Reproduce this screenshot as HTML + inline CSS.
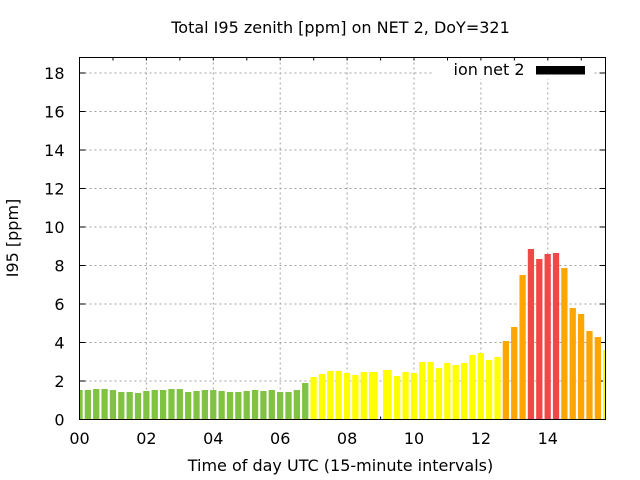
<!DOCTYPE html>
<html><head><meta charset="utf-8"><style>
html,body{margin:0;padding:0;background:#fff;}
svg{display:block;}
text{font-family:"DejaVu Sans","Liberation Sans",sans-serif;font-size:16px;fill:#000;}
</style></head><body>
<svg width="640" height="480" viewBox="0 0 640 480" xmlns="http://www.w3.org/2000/svg">
<rect x="0" y="0" width="640" height="480" fill="#fff"/>
<defs><clipPath id="pc"><rect x="79.5" y="57.5" width="526" height="362"/></clipPath></defs>
<!-- grid -->
<g stroke="#a0a0a0" stroke-width="1" stroke-dasharray="2,3" fill="none">
<line x1="79.5" y1="381" x2="605.5" y2="381"/>
<line x1="79.5" y1="342.5" x2="605.5" y2="342.5"/>
<line x1="79.5" y1="304" x2="605.5" y2="304"/>
<line x1="79.5" y1="265.5" x2="605.5" y2="265.5"/>
<line x1="79.5" y1="227" x2="605.5" y2="227"/>
<line x1="79.5" y1="188.5" x2="605.5" y2="188.5"/>
<line x1="79.5" y1="150" x2="605.5" y2="150"/>
<line x1="79.5" y1="111.5" x2="605.5" y2="111.5"/>
<line x1="79.5" y1="73" x2="605.5" y2="73"/>
<line x1="146.4" y1="57.5" x2="146.4" y2="419.5"/>
<line x1="213.3" y1="57.5" x2="213.3" y2="419.5"/>
<line x1="280.2" y1="57.5" x2="280.2" y2="419.5"/>
<line x1="347.1" y1="57.5" x2="347.1" y2="419.5"/>
<line x1="414" y1="57.5" x2="414" y2="419.5"/>
<line x1="480.9" y1="57.5" x2="480.9" y2="419.5"/>
<line x1="547.8" y1="57.5" x2="547.8" y2="419.5"/>
</g>
<!-- legend background -->
<rect x="434" y="58" width="159" height="21" fill="#fff"/>
<!-- ticks -->
<g stroke="#000" stroke-width="1">
<line x1="79.5" y1="381" x2="85.5" y2="381"/><line x1="605.5" y1="381" x2="599.5" y2="381"/>
<line x1="79.5" y1="342.5" x2="85.5" y2="342.5"/><line x1="605.5" y1="342.5" x2="599.5" y2="342.5"/>
<line x1="79.5" y1="304" x2="85.5" y2="304"/><line x1="605.5" y1="304" x2="599.5" y2="304"/>
<line x1="79.5" y1="265.5" x2="85.5" y2="265.5"/><line x1="605.5" y1="265.5" x2="599.5" y2="265.5"/>
<line x1="79.5" y1="227" x2="85.5" y2="227"/><line x1="605.5" y1="227" x2="599.5" y2="227"/>
<line x1="79.5" y1="188.5" x2="85.5" y2="188.5"/><line x1="605.5" y1="188.5" x2="599.5" y2="188.5"/>
<line x1="79.5" y1="150" x2="85.5" y2="150"/><line x1="605.5" y1="150" x2="599.5" y2="150"/>
<line x1="79.5" y1="111.5" x2="85.5" y2="111.5"/><line x1="605.5" y1="111.5" x2="599.5" y2="111.5"/>
<line x1="79.5" y1="73" x2="85.5" y2="73"/><line x1="605.5" y1="73" x2="599.5" y2="73"/>
<line x1="113" y1="57.5" x2="113" y2="60.5"/><line x1="146.4" y1="57.5" x2="146.4" y2="60.5"/>
<line x1="179.9" y1="57.5" x2="179.9" y2="60.5"/><line x1="213.3" y1="57.5" x2="213.3" y2="60.5"/>
<line x1="246.8" y1="57.5" x2="246.8" y2="60.5"/><line x1="280.2" y1="57.5" x2="280.2" y2="60.5"/>
<line x1="313.7" y1="57.5" x2="313.7" y2="60.5"/><line x1="347.1" y1="57.5" x2="347.1" y2="60.5"/>
<line x1="380.6" y1="57.5" x2="380.6" y2="60.5"/><line x1="414" y1="57.5" x2="414" y2="60.5"/>
<line x1="447.5" y1="57.5" x2="447.5" y2="60.5"/><line x1="480.9" y1="57.5" x2="480.9" y2="60.5"/>
<line x1="514.4" y1="57.5" x2="514.4" y2="60.5"/><line x1="547.8" y1="57.5" x2="547.8" y2="60.5"/>
<line x1="581.3" y1="57.5" x2="581.3" y2="60.5"/>
<line x1="380.6" y1="419.5" x2="380.6" y2="416.5"/>
</g>
<!-- bars -->
<g clip-path="url(#pc)">
<g fill="#80c242">
<rect x="76.37" y="390" width="6.27" height="29.5"/>
<rect x="84.73" y="390" width="6.27" height="29.5"/>
<rect x="93.09" y="389" width="6.27" height="30.5"/>
<rect x="101.45" y="389" width="6.27" height="30.5"/>
<rect x="109.81" y="390" width="6.27" height="29.5"/>
<rect x="118.17" y="392" width="6.27" height="27.5"/>
<rect x="126.53" y="392" width="6.27" height="27.5"/>
<rect x="134.89" y="393" width="6.27" height="26.5"/>
<rect x="143.25" y="391" width="6.27" height="28.5"/>
<rect x="151.61" y="390" width="6.27" height="29.5"/>
<rect x="159.97" y="390" width="6.27" height="29.5"/>
<rect x="168.33" y="389" width="6.27" height="30.5"/>
<rect x="176.69" y="389" width="6.27" height="30.5"/>
<rect x="185.05" y="392" width="6.27" height="27.5"/>
<rect x="193.41" y="391" width="6.27" height="28.5"/>
<rect x="201.77" y="390" width="6.27" height="29.5"/>
<rect x="210.13" y="390" width="6.27" height="29.5"/>
<rect x="218.49" y="391" width="6.27" height="28.5"/>
<rect x="226.85" y="392" width="6.27" height="27.5"/>
<rect x="235.21" y="392" width="6.27" height="27.5"/>
<rect x="243.57" y="391" width="6.27" height="28.5"/>
<rect x="251.93" y="390" width="6.27" height="29.5"/>
<rect x="260.29" y="391" width="6.27" height="28.5"/>
<rect x="268.65" y="390" width="6.27" height="29.5"/>
<rect x="277.01" y="392" width="6.27" height="27.5"/>
<rect x="285.37" y="392" width="6.27" height="27.5"/>
<rect x="293.73" y="390" width="6.27" height="29.5"/>
<rect x="302.09" y="383" width="6.27" height="36.5"/>
</g>
<g fill="#ffff00">
<rect x="310.45" y="377" width="6.27" height="42.5"/>
<rect x="318.81" y="374" width="6.27" height="45.5"/>
<rect x="327.17" y="371" width="6.27" height="48.5"/>
<rect x="335.53" y="371" width="6.27" height="48.5"/>
<rect x="343.89" y="373" width="6.27" height="46.5"/>
<rect x="352.25" y="375" width="6.27" height="44.5"/>
<rect x="360.61" y="372" width="6.27" height="47.5"/>
<rect x="368.97" y="372" width="8.7" height="47.5"/>
<rect x="383" y="370" width="8.7" height="49.5"/>
<rect x="394.05" y="376" width="6.27" height="43.5"/>
<rect x="402.41" y="372" width="6.27" height="47.5"/>
<rect x="410.77" y="373" width="6.27" height="46.5"/>
<rect x="419.13" y="362" width="6.27" height="57.5"/>
<rect x="427.49" y="362" width="6.27" height="57.5"/>
<rect x="435.85" y="368" width="6.27" height="51.5"/>
<rect x="444.21" y="363" width="6.27" height="56.5"/>
<rect x="452.57" y="365" width="6.27" height="54.5"/>
<rect x="460.93" y="363" width="6.27" height="56.5"/>
<rect x="469.29" y="355" width="6.27" height="64.5"/>
<rect x="477.65" y="353" width="6.27" height="66.5"/>
<rect x="486.01" y="360" width="6.27" height="59.5"/>
<rect x="494.37" y="357" width="6.27" height="62.5"/>
<rect x="603.05" y="350" width="6.27" height="69.5"/>
</g>
<g fill="#ffa500">
<rect x="502.73" y="341" width="6.27" height="78.5"/>
<rect x="511.09" y="327" width="6.27" height="92.5"/>
<rect x="519.45" y="275" width="6.27" height="144.5"/>
<rect x="561.25" y="268" width="6.27" height="151.5"/>
<rect x="569.61" y="308" width="6.27" height="111.5"/>
<rect x="577.97" y="314" width="6.27" height="105.5"/>
<rect x="586.33" y="331" width="6.27" height="88.5"/>
<rect x="594.69" y="337" width="6.27" height="82.5"/>
</g>
<g fill="#f04747">
<rect x="527.81" y="249" width="6.27" height="170.5"/>
<rect x="536.17" y="259" width="6.27" height="160.5"/>
<rect x="544.53" y="254" width="6.27" height="165.5"/>
<rect x="552.89" y="253" width="6.27" height="166.5"/>
</g>
</g>
<!-- border -->
<rect x="79.5" y="57.5" width="526" height="362" fill="none" stroke="#000" stroke-width="1"/>
<!-- legend -->
<text x="524.5" y="75" text-anchor="end">ion net 2</text>
<rect x="536" y="66" width="49" height="8.5" fill="#000"/>
<!-- y tick labels -->
<g text-anchor="end">
<text x="64.5" y="425.3">0</text>
<text x="64.5" y="386.8">2</text>
<text x="64.5" y="348.3">4</text>
<text x="64.5" y="309.8">6</text>
<text x="64.5" y="271.3">8</text>
<text x="64.5" y="232.8">10</text>
<text x="64.5" y="194.3">12</text>
<text x="64.5" y="155.8">14</text>
<text x="64.5" y="117.3">16</text>
<text x="64.5" y="78.8">18</text>
</g>
<!-- x tick labels -->
<g text-anchor="middle">
<text x="79.5" y="444">00</text>
<text x="146.4" y="444">02</text>
<text x="213.3" y="444">04</text>
<text x="280.2" y="444">06</text>
<text x="347.1" y="444">08</text>
<text x="414" y="444">10</text>
<text x="480.9" y="444">12</text>
<text x="547.8" y="444">14</text>
</g>
<text x="340.5" y="33" text-anchor="middle">Total I95 zenith [ppm] on NET 2, DoY=321</text>
<text x="340.5" y="471" text-anchor="middle">Time of day UTC (15-minute intervals)</text>
<text transform="translate(18,238) rotate(-90)" text-anchor="middle">I95 [ppm]</text>
</svg>
</body></html>
